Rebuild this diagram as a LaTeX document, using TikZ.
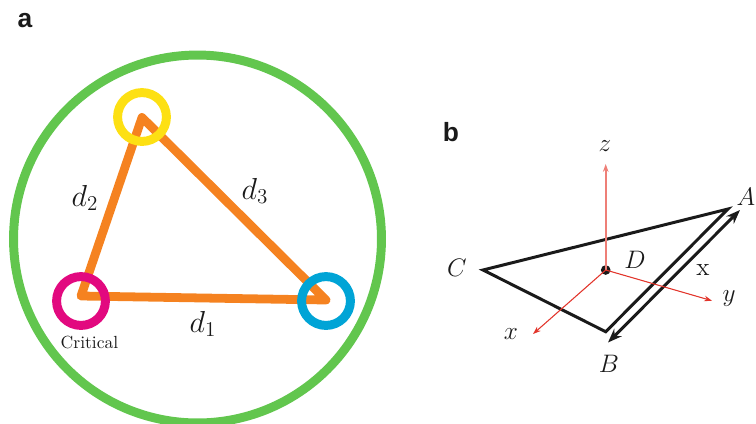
\documentclass[tikz,border=0pt]{standalone}
\usepackage{fontspec}
\newfontfamily\panelfont{Liberation Sans}
\usetikzlibrary{arrows.meta}

\definecolor{ringgreen}{HTML}{62C64E}
\definecolor{edgeorange}{HTML}{F58220}
\definecolor{critpink}{HTML}{E2097F}
\definecolor{nodeblue}{HTML}{00A4D6}
\definecolor{nodeyellow}{HTML}{FDE013}
\definecolor{axisred}{HTML}{E2352B}
\definecolor{axispale}{HTML}{EE7F77}
\definecolor{inkblack}{HTML}{1A1A1A}

\begin{document}
\begin{tikzpicture}[
    x=0.02cm, y=-0.02cm,
    % Style for the coloured rings
    ring/.style={circle, draw=#1, line width=5.1pt, inner sep=0pt, minimum size=27.8pt},
    % Style for the triangle sides in panel a
    side/.style={edgeorange, line width=5pt, line cap=round, line join=round},
    % Style for the axes in panel b
    axis/.style={draw=#1, fill=axisred, line width=0.6pt, -{Stealth[length=4.5pt, width=3.2pt]}},
    % Style for the triangle and the double arrow in panel b
    wire/.style={inkblack, line width=1.7pt},
    lab/.style={inkblack, font=\fontsize{17}{20}\selectfont},
    labb/.style={inkblack, font=\fontsize{14.5}{17}\selectfont},
    panel/.style={inkblack, font=\panelfont\bfseries\fontsize{15}{18}\selectfont}
]
\clip (0,0) rectangle (756,423);
\useasboundingbox (0,0) rectangle (756,423);

% ==========================
% a
% ==========================
\node[panel] (pa) at (25,21) {a};
\node[ring=ringgreen, minimum size=7.36cm] (outer) at (197.5,239) {};

% Triangle corners
\coordinate (v1) at (81,296);
\coordinate (v2) at (326,300);
\coordinate (v3) at (142,117.5);
\draw[side] (v1) -- (v2) -- (v3) -- (v1) -- cycle;

% Rings over the corners
\node[ring=critpink] (crit) at (81,301) {};
\node[ring=nodeblue] (blue) at (326,301) {};
\node[ring=nodeyellow] (yellow) at (142,117) {};

\node[lab] (d1) at (203,324) {$d_1$};
\node[lab] (d2) at (85,198) {$d_2$};
\node[lab] (d3) at (255,191) {$d_3$};
\node[inkblack, font=\fontsize{10}{11}\selectfont] (critlab) at (89.5,342) {Critical};

% ==========================
% b
% ==========================
\node[panel] (pb) at (451,132) {b};

\coordinate (A) at (728,209);
\coordinate (B) at (605.7,331.7);
\coordinate (C) at (483,270);
\coordinate (ptail) at (608,342.5);
\coordinate (phead) at (740,210);
\coordinate (zend) at (605.7,164);
\coordinate (yend) at (712,300.7);
\coordinate (xend) at (533,334);

\draw[wire, line join=miter] (C) -- (A) -- (B) -- cycle;
\draw[wire, {Stealth[length=8pt, width=6pt]}-{Stealth[length=8pt, width=6pt]}] (ptail) -- (phead);

\node[circle, fill=inkblack, inner sep=0pt, minimum size=5.5pt] (D) at (605.7,270) {};
\draw[axis=axispale, line width=0.9pt] (D.center) -- (zend);
\draw[axis=axisred] (D.center) -- (yend);
\draw[axis=axisred] (D.center) -- (xend);

\node[labb] (Alab) at (746,197) {$A$};
\node[labb] (Blab) at (609,364) {$B$};
\node[labb] (Clab) at (457,268) {$C$};
\node[labb] (Dlab) at (635,260) {$D$};
\node[labb] (xlab) at (511,334) {$x$};
\node[labb] (ylab) at (729,299) {$y$};
\node[labb] (zlab) at (605,146) {$z$};
\node[labb] (xside) at (703,270) {x};
\end{tikzpicture}
\end{document}
